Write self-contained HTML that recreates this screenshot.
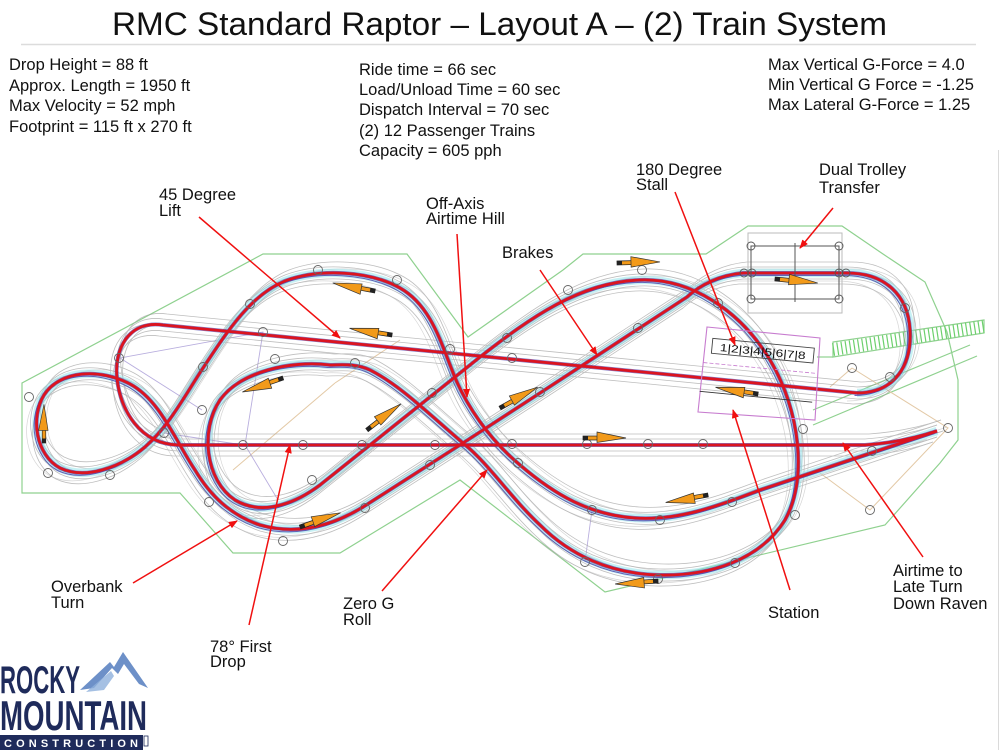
<!DOCTYPE html>
<html><head><meta charset="utf-8"><style>
html,body{margin:0;padding:0;background:#fff;}
svg{display:block;}
text{font-family:"Liberation Sans",Arial,sans-serif;fill:#111;}
</style></head><body>
<svg width="1000" height="750" viewBox="0 0 1000 750" xmlns="http://www.w3.org/2000/svg">
<defs>
<path id="p1" d="M857,393 L163,325 C128,320 114,350 117,378 C120,410 140,444 178,445 L865,445 Q905,442 937,431"/>
<path id="p2" d="M857,393 C895,393 912,365 910,330 C908,295 885,273 847,273 L743,273 C720,275 700,285 687,297 L540,393 L463,443 L363,507 C330,527 295,535 260,525 C230,515 210,495 195,470 C175,440 160,400 130,384 C100,368 60,370 44,395 C30,418 36,455 60,468 C85,480 120,468 145,447 C170,425 185,395 205,365 C225,335 250,295 285,281 C320,268 370,271 400,288 C430,305 440,340 452,370 C465,405 490,440 520,465 C555,495 590,515 635,518 C680,521 720,505 760,490 L937,431"/>
<path id="p3" d="M330,365 C290,360 240,372 220,400 C200,430 205,480 235,500 C265,518 300,500 320,485 L480,357 C530,318 580,282 640,280 C690,278 740,310 770,360 C800,410 808,480 785,520 C760,560 710,576 660,575 C610,574 570,555 540,525 C510,497 490,465 463,443 C430,415 400,385 370,370 C355,363 340,365 330,365 Z"/>
<g id="arr">
<rect x="0" y="-2" width="17" height="4" fill="#f29a1a" stroke="#222" stroke-width="0.7"/>
<rect x="0" y="-2" width="5" height="4" fill="#222"/>
<polygon points="14,-6 43,0 14,4.5" fill="#f29a1a" stroke="#333" stroke-width="0.7"/>
</g>
<marker id="ah" viewBox="0 0 10 10" refX="9" refY="5" markerWidth="6" markerHeight="6" orient="auto"><path d="M0,1 L10,5 L0,9 z" fill="#f01010"/></marker>
</defs>

<!-- title -->
<text x="112" y="35" font-size="32" textLength="775" lengthAdjust="spacingAndGlyphs">RMC Standard Raptor – Layout A – (2) Train System</text>
<line x1="21" y1="44.5" x2="976" y2="44.5" stroke="#dcdcdc" stroke-width="1.5"/>
<line x1="998.5" y1="150" x2="998.5" y2="750" stroke="#dadada" stroke-width="1"/>

<!-- info text -->
<g font-size="16.5">
<text x="9" y="70">Drop Height = 88 ft</text>
<text x="9" y="91">Approx. Length = 1950 ft</text>
<text x="9" y="111">Max Velocity = 52 mph</text>
<text x="9" y="132">Footprint = 115 ft x 270 ft</text>
<text x="359" y="75">Ride time = 66 sec</text>
<text x="359" y="95">Load/Unload Time = 60 sec</text>
<text x="359" y="115">Dispatch Interval = 70 sec</text>
<text x="359" y="136">(2) 12 Passenger Trains</text>
<text x="359" y="156">Capacity = 605 pph</text>
<text x="768" y="70">Max Vertical G-Force = 4.0</text>
<text x="768" y="90">Min Vertical G Force = -1.25</text>
<text x="768" y="110">Max Lateral G-Force = 1.25</text>
</g>

<!-- green boundary -->
<polygon points="22,383 263,254 407,254 468,337 563,270 583,254 706,254 748,226 842,226 883,254 925,282 947,332 958,380 958,440 940,463 885,525 605,592 460,480 340,553 233,553 180,493 22,493" fill="none" stroke="#8fd18f" stroke-width="1.2"/>
<g stroke="#8fd18f" stroke-width="1.2" fill="none">
<line x1="813" y1="410" x2="970" y2="345"/>
<line x1="813" y1="425" x2="977" y2="356"/>
<line x1="817" y1="357" x2="833" y2="357"/>
<polygon points="833,342 984,320 984,333 833,357"/>
</g>
<line x1="833" y1="349.5" x2="984" y2="326.5" stroke="#6cd06c" stroke-width="13" stroke-dasharray="1.2 3"/>

<!-- tan / lavender construction lines -->
<g stroke="#e3c9a6" stroke-width="1" fill="none">
<polyline points="852,368 948,428 870,510 820,473"/>
<line x1="852" y1="368" x2="830" y2="387"/>
<line x1="233" y1="470" x2="335" y2="383"/>
<line x1="335" y1="383" x2="400" y2="340"/>
</g>
<g stroke="#a79ad6" stroke-width="0.9" fill="none" opacity="0.8">
<polyline points="120,358 263,332 245,445 278,500"/>
<line x1="120" y1="358" x2="202" y2="410"/>
<line x1="592" y1="510" x2="585" y2="562"/>
<line x1="164" y1="433" x2="243" y2="445"/>
</g>

<!-- gray bundles -->
<g fill="none" stroke="#9c9c9c" stroke-width="0.8" opacity="0.65">
<use href="#p1" transform="translate(0,-6)"/><use href="#p1" transform="translate(0,6)"/><use href="#p1" transform="translate(-6,0)"/><use href="#p1" transform="translate(6,0)"/><use href="#p1" transform="translate(4,-11)"/><use href="#p1" transform="translate(-4,11)"/>
<use href="#p2" transform="translate(0,-6)"/><use href="#p2" transform="translate(0,6)"/><use href="#p2" transform="translate(-6,0)"/><use href="#p2" transform="translate(6,0)"/><use href="#p2" transform="translate(4,-11)"/><use href="#p2" transform="translate(-4,11)"/>
<use href="#p3" transform="translate(0,-6)"/><use href="#p3" transform="translate(0,6)"/><use href="#p3" transform="translate(-6,0)"/><use href="#p3" transform="translate(6,0)"/><use href="#p3" transform="translate(4,-11)"/><use href="#p3" transform="translate(-4,11)"/>
</g>
<g fill="none" stroke="#b5b5b5" stroke-width="0.7" opacity="0.55">
<use href="#p2" transform="translate(-10,8)"/><use href="#p2" transform="translate(10,-4)"/>
<use href="#p3" transform="translate(-10,8)"/><use href="#p3" transform="translate(10,-4)"/>
</g>

<!-- cyan / blue / red track -->
<g fill="none" stroke-linejoin="round">
<g stroke="#8fe3ea" stroke-width="8.5" opacity="0.5"><use href="#p2"/><use href="#p3"/></g>
<g stroke="#4a3fa8" stroke-width="1" opacity="0.8"><use href="#p2" transform="translate(-2.5,2.5)"/><use href="#p3" transform="translate(-2.5,2.5)"/></g>
<g stroke="#5046b0" stroke-width="4" opacity="0.7"><use href="#p1"/><use href="#p2"/><use href="#p3"/></g>
<g stroke="#db1420" stroke-width="2.8"><use href="#p1"/><use href="#p2"/><use href="#p3"/></g>
</g>

<!-- support circles -->
<g fill="none" stroke="#666" stroke-width="0.9">
<circle cx="29" cy="397" r="4.5"/><circle cx="48" cy="473" r="4.5"/><circle cx="110" cy="475" r="4.5"/><circle cx="119" cy="358" r="4.5"/>
<circle cx="203" cy="367" r="4.5"/><circle cx="250" cy="304" r="4.5"/><circle cx="318" cy="270" r="4.5"/><circle cx="397" cy="280" r="4.5"/>
<circle cx="263" cy="332" r="4.5"/><circle cx="275" cy="359" r="4.5"/><circle cx="355" cy="363" r="4.5"/><circle cx="450" cy="349" r="4.5"/>
<circle cx="202" cy="410" r="4.5"/><circle cx="164" cy="433" r="4.5"/><circle cx="243" cy="445" r="4.5"/><circle cx="303" cy="445" r="4.5"/>
<circle cx="362" cy="445" r="4.5"/><circle cx="435" cy="445" r="4.5"/><circle cx="312" cy="480" r="4.5"/><circle cx="432" cy="393" r="4.5"/>
<circle cx="430" cy="465" r="4.5"/><circle cx="209" cy="502" r="4.5"/><circle cx="283" cy="541" r="4.5"/><circle cx="365" cy="508" r="4.5"/>
<circle cx="512" cy="358" r="4.5"/><circle cx="512" cy="444" r="4.5"/><circle cx="587" cy="444" r="4.5"/><circle cx="648" cy="444" r="4.5"/>
<circle cx="703" cy="444" r="4.5"/><circle cx="518" cy="463" r="4.5"/><circle cx="507" cy="338" r="4.5"/><circle cx="568" cy="290" r="4.5"/>
<circle cx="642" cy="270" r="4.5"/><circle cx="638" cy="328" r="4.5"/><circle cx="592" cy="510" r="4.5"/><circle cx="660" cy="520" r="4.5"/>
<circle cx="585" cy="562" r="4.5"/><circle cx="540" cy="392" r="4.5"/><circle cx="803" cy="429" r="4.5"/><circle cx="872" cy="451" r="4.5"/>
<circle cx="948" cy="428" r="4.5"/><circle cx="870" cy="510" r="4.5"/><circle cx="795" cy="515" r="4.5"/><circle cx="732" cy="502" r="4.5"/>
<circle cx="735" cy="563" r="4.5"/><circle cx="658" cy="579" r="4.5"/><circle cx="718" cy="303" r="4.5"/><circle cx="905" cy="308" r="4.5"/>
<circle cx="890" cy="377" r="4.5"/><circle cx="852" cy="368" r="4.5"/>
</g>

<!-- transfer table -->
<g fill="none">
<rect x="748" y="233" width="94" height="80" stroke="#bbb" stroke-width="1"/>
<rect x="751" y="246" width="88" height="53" stroke="#555" stroke-width="1"/>
<line x1="795" y1="243" x2="795" y2="302" stroke="#555" stroke-width="1"/>
<g stroke="#555" stroke-width="0.9">
<circle cx="751" cy="246" r="4"/><circle cx="839" cy="246" r="4"/><circle cx="751" cy="299" r="4"/><circle cx="839" cy="299" r="4"/>
<circle cx="744" cy="273" r="4"/><circle cx="752" cy="273" r="4"/><circle cx="839" cy="273" r="4"/><circle cx="846" cy="273" r="4"/>
</g>
</g>

<!-- station -->
<polygon points="707,327 820,338 815,420 698,412" fill="none" stroke="#c77ccf" stroke-width="1.1"/>
<g transform="rotate(5.5 760 370)">
<rect x="710" y="343" width="102" height="15" fill="none" stroke="#444" stroke-width="0.9"/>
<text x="718" y="355" font-size="10.5" textLength="86" lengthAdjust="spacingAndGlyphs" fill="#333">1|2|3|4|5|6|7|8</text>
<line x1="703" y1="368" x2="815" y2="368" stroke="#c77ccf" stroke-width="0.8" stroke-dasharray="4 2"/>
<line x1="702" y1="397" x2="815" y2="397" stroke="#333" stroke-width="0.9"/>
</g>

<!-- orange direction arrows -->
<use href="#arr" transform="translate(44,443) rotate(-90) scale(0.9)"/>
<use href="#arr" transform="translate(375,291) rotate(190.8)"/>
<use href="#arr" transform="translate(392,335) rotate(189)"/>
<use href="#arr" transform="translate(283,378) rotate(161)"/>
<use href="#arr" transform="translate(367,430) rotate(-37.6)"/>
<use href="#arr" transform="translate(300,527) rotate(-19.3)"/>
<use href="#arr" transform="translate(500,408) rotate(-29)"/>
<use href="#arr" transform="translate(617,263) rotate(-1.4)"/>
<use href="#arr" transform="translate(583,438) rotate(0)"/>
<use href="#arr" transform="translate(775,279) rotate(5.4)"/>
<use href="#arr" transform="translate(758,394) rotate(189)"/>
<use href="#arr" transform="translate(708,495) rotate(170)"/>
<use href="#arr" transform="translate(658,581) rotate(176)"/>

<!-- leader lines -->
<g stroke="#f01010" stroke-width="1.5" marker-end="url(#ah)">
<line x1="199" y1="217" x2="340" y2="338"/>
<line x1="457" y1="234" x2="467" y2="397"/>
<line x1="540" y1="270" x2="597" y2="355"/>
<line x1="675" y1="192" x2="735" y2="345"/>
<line x1="833" y1="208" x2="800" y2="248"/>
<line x1="133" y1="583" x2="237" y2="521"/>
<line x1="249" y1="625" x2="290" y2="445"/>
<line x1="382" y1="591" x2="487" y2="470"/>
<line x1="790" y1="590" x2="733" y2="410"/>
<line x1="923" y1="557" x2="843" y2="443"/>
</g>

<!-- labels -->
<g font-size="16.5">
<text x="159" y="200">45 Degree</text><text x="159" y="216">Lift</text>
<text x="426" y="209">Off-Axis</text><text x="426" y="224">Airtime Hill</text>
<text x="502" y="258">Brakes</text>
<text x="636" y="175">180 Degree</text><text x="636" y="190">Stall</text>
<text x="819" y="175">Dual Trolley</text><text x="819" y="193">Transfer</text>
<text x="51" y="592">Overbank</text><text x="51" y="608">Turn</text>
<text x="210" y="652">78° First</text><text x="210" y="667">Drop</text>
<text x="343" y="609">Zero G</text><text x="343" y="625">Roll</text>
<text x="768" y="618">Station</text>
<text x="893" y="576">Airtime to</text><text x="893" y="592">Late Turn</text><text x="893" y="609">Down Raven</text>
</g>

<!-- logo -->
<polygon points="80,690 110,662 114,667 123,652 148,688 139,684 124,664 118,674 112,668 94,688" fill="#6d90c8"/>
<polygon points="86,692 111,671 114,676 104,690" fill="#8fb0dc" opacity="0.8"/>
<text x="0" y="693" font-size="39" font-weight="bold" textLength="80" lengthAdjust="spacingAndGlyphs" style="fill:#1f2b5b">ROCKY</text>
<text x="0" y="730" font-size="42" font-weight="bold" textLength="147" lengthAdjust="spacingAndGlyphs" style="fill:#1f2b5b">MOUNTAIN</text>
<rect x="0" y="735" width="143" height="15" fill="#1f2b5b"/>
<rect x="144" y="736" width="4" height="10" fill="none" stroke="#1f2b5b" stroke-width="0.8"/>
<text x="4" y="747" font-size="11" font-weight="bold" textLength="134" lengthAdjust="spacing" style="fill:#ffffff">CONSTRUCTION</text>
</svg>
</body></html>
